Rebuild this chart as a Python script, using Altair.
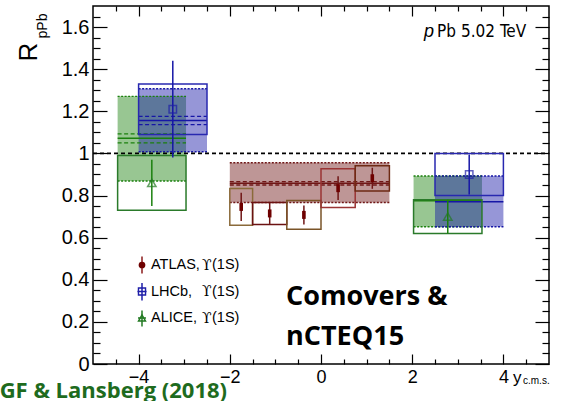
import altair as alt
import pandas as pd

# ---------------- measurements: Upsilon(1S) R_pPb vs y_cms ----------------
alice_lo = [-4.46, 2.03]
alice_hi = [-2.96, 3.53]
alice_x = [-3.71, 2.78]
alice_r = [0.86, 0.70]
alice_stat = [0.11, 0.08]
alice_syst = [0.13, 0.08]

lhcb_lo = [-4.0, 2.5]
lhcb_hi = [-2.5, 4.0]
lhcb_x = [-3.25, 3.25]
lhcb_r = [1.21, 0.90]
lhcb_stat = [0.23, 0.095]
lhcb_syst = [0.12, 0.10]

atlas_lo = [-2.0, -1.5, -0.75, 0.0, 0.75]
atlas_hi = [-1.5, -0.75, 0.0, 0.75, 1.5]
atlas_x = [-1.75, -1.125, -0.375, 0.375, 1.125]
atlas_r = [0.746, 0.715, 0.708, 0.835, 0.882]
atlas_stat = [0.067, 0.05, 0.045, 0.056, 0.05]
atlas_syst = [0.087, 0.052, 0.068, 0.092, 0.06]

# ---------------- Comovers & nCTEQ15 predictions in the same bins ----------------
th_key = ["alice_b", "lhcb_b", "atlas", "alice_f", "lhcb_f"]
th_lo = [-4.46, -4.0, -2.0, 2.03, 2.5]
th_hi = [-2.96, -2.5, 1.5, 3.53, 4.0]
th_min = [0.869, 1.008, 0.767, 0.652, 0.652]
th_max = [1.271, 1.307, 0.956, 0.893, 0.893]
th_cent = [1.072, 1.156, 0.858, 0.775, 0.770]
th_dlo = [1.050, 1.137, 0.850, None, None]
th_dhi = [1.093, 1.176, 0.866, None, None]

# axis ticks
x_major = [-4, -2, 0, 2, 4]
x_minor = [k / 2 for k in range(-9, 10) if k % 4 != 0]
y_major = [0, 0.2, 0.4, 0.6, 0.8, 1, 1.2, 1.4, 1.6]
y_minor = [round(0.05 * k, 2) for k in range(1, 34) if k % 4 != 0]

# legend entries
leg_names = ["ATLAS,", "LHCb,", "ALICE,"]
leg_state = "ϒ"
leg_tail = "(1S)"

# ---------------- layout ----------------
PAD_L, PAD_T, PAD_R, PAD_B = 93, 6, 18, 37
W, H = 567 - PAD_L - PAD_R, 401 - PAD_T - PAD_B

xs = alt.Scale(domain=[-5, 5], nice=False, zero=False)
ys = alt.Scale(domain=[0, 1.7], nice=False, zero=False)


def X(field, **kw):
    return alt.X(field, type="quantitative", scale=xs, axis=None, **kw)


def Y(field, **kw):
    return alt.Y(field, type="quantitative", scale=ys, axis=None, **kw)


def px(ax, ay):
    """absolute page pixel -> plot-area pixel"""
    return ax - PAD_L, ay - PAD_T


# ---------------- tables ----------------
theory = pd.DataFrame({"key": th_key, "lo": th_lo, "hi": th_hi, "min": th_min,
                       "max": th_max, "cent": th_cent, "dlo": th_dlo, "dhi": th_dhi})

rows = []
for exp, lo, hi, x, r, st, sy in [("ALICE", alice_lo, alice_hi, alice_x, alice_r, alice_stat, alice_syst),
                                  ("LHCb", lhcb_lo, lhcb_hi, lhcb_x, lhcb_r, lhcb_stat, lhcb_syst),
                                  ("ATLAS", atlas_lo, atlas_hi, atlas_x, atlas_r, atlas_stat, atlas_syst)]:
    for i in range(len(r)):
        rows.append({"exp": exp, "box": f"{exp}{i}", "lo": lo[i], "hi": hi[i], "x": x[i],
                     "r": r[i], "stat": st[i], "syst": sy[i]})
meas = pd.DataFrame(rows)

# ---------------- styles ----------------
fill_scale = alt.Scale(domain=th_key, range=["#1A800D", "#1616A6", "#6F1616", "#1A800D", "#1616A6"])
edge_scale = alt.Scale(domain=th_key, range=["#1B6B1B", "#22229A", "#7A0E0E", "#1B6B1B", "#22229A"])
line_scale = alt.Scale(domain=th_key, range=["#145214", "#1A1A80", "#8B0000", "#145214", "#1A1A80"])
dash_w = alt.Scale(domain=th_key, range=[1.3, 1.3, 2.4, 1.3, 1.3])
exp_scale = alt.Scale(domain=["ALICE", "LHCb", "ATLAS"], range=["#237A23", "#1E1EA8", "#B06A6A"])
box_keys = ["ALICE0", "ALICE1", "LHCb0", "LHCb1", "ATLAS0", "ATLAS1", "ATLAS2", "ATLAS3", "ATLAS4"]
box_cols = ["#2A7A2A", "#2A7A2A", "#2828B0", "#2828B0", "#8A6A3A", "#6B1212", "#7A5428", "#9A3434", "#6E2A14"]
box_scale = alt.Scale(domain=box_keys, range=box_cols)

th = alt.Chart(theory)
band_fill = th.mark_rect(opacity=0.45).encode(
    x=X("lo"), x2="hi", y=Y("min"), y2="max",
    color=alt.Color("key:N", scale=fill_scale, legend=None))
band_edges = th.transform_fold(["min", "max"], as_=["edge", "v"]).mark_rule(
    strokeDash=[2, 1.5], strokeWidth=1.4).encode(
    x=X("lo"), x2="hi", y=Y("v"), color=alt.Color("key:N", scale=edge_scale, legend=None))
band_cent = th.mark_rule(strokeWidth=1.5).encode(
    x=X("lo"), x2="hi", y=Y("cent"), color=alt.Color("key:N", scale=line_scale, legend=None))
band_dash = th.transform_fold(["dlo", "dhi"], as_=["edge", "v"]).transform_filter(
    "isValid(datum.v)").mark_rule(strokeDash=[4, 2.5]).encode(
    x=X("lo"), x2="hi", y=Y("v"), color=alt.Color("key:N", scale=line_scale, legend=None),
    size=alt.Size("key:N", scale=dash_w, legend=None))

unity = alt.Chart(pd.DataFrame({"y": [1.0]})).mark_rule(
    color="black", strokeDash=[4, 3], strokeWidth=1.8).encode(
    y=Y("y"), x=alt.value(0), x2=alt.value(W))

mc = alt.Chart(meas).transform_calculate(
    slo="datum.r - datum.syst", shi="datum.r + datum.syst",
    elo="datum.r - datum.stat", ehi="datum.r + datum.stat")
boxes = mc.mark_rect(filled=False, strokeWidth=1.5).encode(
    x=X("lo"), x2="hi", y=Y("slo"), y2="shi",
    stroke=alt.Stroke("box:N", scale=box_scale, legend=None))
errs = mc.mark_rule(strokeWidth=1.5).encode(
    x=X("x"), y=Y("elo"), y2="ehi", color=alt.Color("exp:N", scale=exp_scale, legend=None))
alice_pts = mc.transform_filter("datum.exp == 'ALICE'").mark_point(
    shape="triangle-up", filled=False, size=70, strokeWidth=1.5, color="#237A23").encode(
    x=X("x"), y=Y("r"))
lhcb_pts = mc.transform_filter("datum.exp == 'LHCb'").mark_point(
    shape="square", filled=False, size=55, strokeWidth=1.5, color="#1E1EA8").encode(
    x=X("x"), y=Y("r"))
atlas_pts = mc.transform_filter("datum.exp == 'ATLAS'").mark_rule(
    strokeWidth=3.6, color="#6E0000", yOffset=-4, y2Offset=4).encode(
    x=X("x"), y=Y("r"), y2="r")

# ---------------- axes (ROOT style: inward ticks on all four sides) ----------------
one = pd.DataFrame({"x": [0.0], "y": [0.5]})


def axis_layer(xa, ya):
    return alt.Chart(one).mark_point(opacity=0).encode(
        x=alt.X("x:Q", scale=xs, axis=xa), y=alt.Y("y:Q", scale=ys, axis=ya))


lab_x = alt.Axis(orient="bottom", values=x_major, ticks=False, domain=False, grid=False, title=None,
                 labelFontSize=18, labelPadding=4, labelFont="Liberation Sans", labelColor="black")
lab_y = alt.Axis(orient="left", values=y_major, ticks=False, domain=False, grid=False, title=None,
                 format="~g", labelFontSize=20, labelPadding=4, labelFont="Liberation Sans",
                 labelColor="black")


def tick_axis(orient, vals, size, offset):
    return alt.Axis(orient=orient, values=vals, labels=False, domain=False, grid=False, title=None,
                    ticks=True, tickSize=size, tickColor="black", tickWidth=1.2, offset=offset)


axes = [
    axis_layer(lab_x, lab_y),
    axis_layer(tick_axis("top", x_major, 10, -H), tick_axis("right", y_major, 14, -W)),
    axis_layer(tick_axis("top", x_minor, 5, -H), tick_axis("right", y_minor, 7, -W)),
    axis_layer(tick_axis("bottom", x_major, 10, -H), tick_axis("left", y_major, 14, -W)),
    axis_layer(tick_axis("bottom", x_minor, 5, -H), tick_axis("left", y_minor, 7, -W)),
]

# ---------------- texts & legend ----------------
dot = alt.Chart(pd.DataFrame({"_": [0]}))


def text(s, ax, ay, **kw):
    x, y = px(ax, ay)
    return dot.mark_text(text=s, **kw).encode(x=alt.value(x), y=alt.value(y))


def vline(ax, ay0, ay1, color, w=1.5):
    x, y0 = px(ax, ay0)
    _, y1 = px(ax, ay1)
    return dot.mark_rule(color=color, strokeWidth=w).encode(x=alt.value(x), y=alt.value(y0), y2=alt.value(y1))


def hline(ax0, ax1, ay, color, w=1.5):
    x0, y = px(ax0, ay)
    x1, _ = px(ax1, ay)
    return dot.mark_rule(color=color, strokeWidth=w).encode(x=alt.value(x0), x2=alt.value(x1), y=alt.value(y))


def symbol(ax, ay, **kw):
    x, y = px(ax, ay)
    return dot.mark_point(**kw).encode(x=alt.value(x), y=alt.value(y))


LF = "Liberation Sans"
legend = [
    vline(142, 256.5, 273.5, "#8B1A1A"),
    symbol(142, 265, shape="circle", filled=True, size=45, color="#6E0000", opacity=1),
    vline(142, 283, 300.5, "#1E1EA8"),
    hline(137.5, 146.5, 291.5, "#1E1EA8"),
    symbol(142, 291.5, shape="square", filled=False, size=50, strokeWidth=1.4, color="#1E1EA8", opacity=1),
    vline(142, 310.5, 326.5, "#237A23"),
    hline(138, 146, 318, "#237A23"),
    symbol(142, 318, shape="triangle-up", filled=False, size=50, strokeWidth=1.4, color="#237A23", opacity=1),
]
for name, ly in zip(leg_names, [265, 291.5, 318]):
    legend += [
        text(name, 151, ly, align="left", baseline="middle", font=LF, fontSize=14.5, color="black"),
        text(leg_state, 202, ly + 0.5, align="left", baseline="middle", font="DejaVu Serif", fontSize=14,
             color="black"),
        text(leg_tail, 212, ly, align="left", baseline="middle", font=LF, fontSize=14.5, color="black"),
    ]

NARROW = "'Liberation Sans Narrow', 'DejaVu Sans Condensed', 'Liberation Sans', sans-serif"
texts = [
    text("R", 29, 52, angle=270, align="center", baseline="middle", font=LF, fontSize=26, color="black"),
    text("pPb", 43, 26, angle=270, align="center", baseline="middle", font=LF, fontSize=14, color="black"),
    text("p", 424, 37, align="left", baseline="alphabetic", font=LF, fontStyle="italic", fontSize=18, color="black"),
    text("Pb", 437, 37, align="left", baseline="alphabetic", font=NARROW, fontSize=17, color="black"),
    text("5.02 TeV", 461, 37, align="left", baseline="alphabetic", font=NARROW, fontSize=17, color="black"),
    text("Comovers &", 286, 305, align="left", baseline="alphabetic", font="Open Sans", fontWeight="bold",
         fontSize=27, color="black"),
    text("nCTEQ15", 286, 345, align="left", baseline="alphabetic", font="Open Sans", fontWeight="bold",
         fontSize=27, color="black"),
    text("GF & Lansberg (2018)", 227, 398, align="right", baseline="alphabetic", font="Open Sans",
         fontWeight="bold", fontSize=22, color="#1E6B1E"),
    text("y", 513, 383, align="left", baseline="alphabetic", font=LF, fontSize=17, color="black"),
    text("c.m.s.", 523, 384, align="left", baseline="alphabetic", font=LF, fontSize=10, color="black"),
]

chart = alt.layer(
    *axes,
    band_fill, band_edges, band_cent, band_dash, unity,
    boxes, errs, alice_pts, lhcb_pts, atlas_pts,
    *legend, *texts,
).resolve_axis(x="independent", y="independent").properties(
    width=W, height=H,
    autosize=alt.AutoSizeParams(type="none"),
    padding={"left": PAD_L, "top": PAD_T, "right": PAD_R, "bottom": PAD_B},
    background="white",
).configure_view(stroke="black", strokeWidth=1.5).configure_axis(grid=False)

chart.save("out.html", embed_options={"renderer": "svg", "actions": False})
